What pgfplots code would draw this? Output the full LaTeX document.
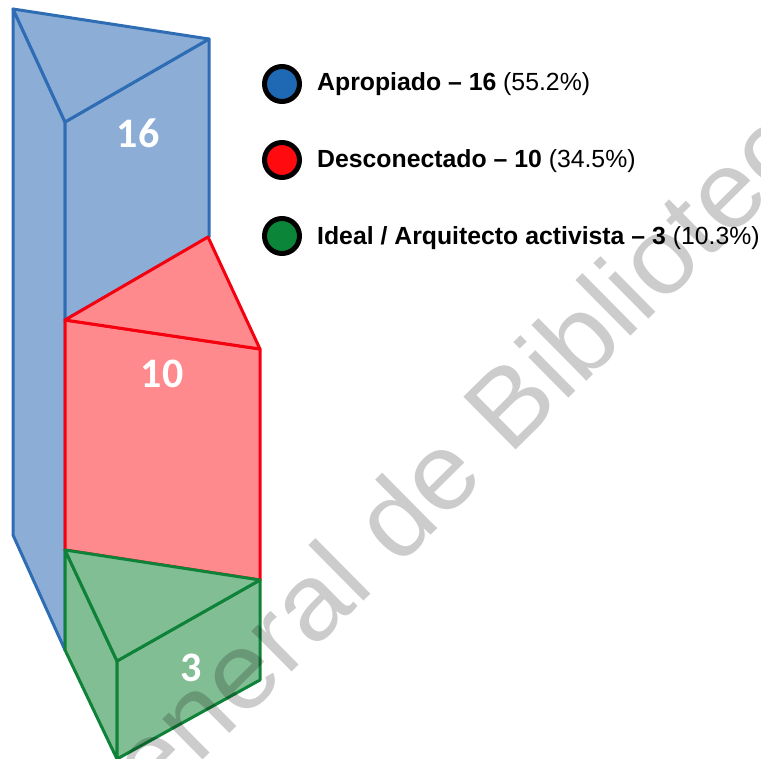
\documentclass[border=0pt]{standalone}
\usepackage{pgfplots}
\pgfplotsset{compat=1.18}
\usepackage{fontspec}
\setmainfont{Liberation Sans}
\newfontfamily\carlito{Carlito}
\definecolor{bline}{HTML}{2E6DB4}
\definecolor{bfill}{HTML}{8CAED6}
\definecolor{rline}{HTML}{F5000F}
\definecolor{rfill}{HTML}{FF8A8E}
\definecolor{gline}{HTML}{0E8238}
\definecolor{gfill}{HTML}{82BE94}
\definecolor{bdot}{HTML}{1F69B4}
\definecolor{rdot}{HTML}{FF0A0F}
\definecolor{gdot}{HTML}{0B8638}
\begin{document}
\begin{tikzpicture}
\useasboundingbox (0,0) rectangle (761pt,759pt);
\begin{axis}[anchor=south west,at={(0,0)},hide axis,scale only axis,width=761pt,height=759pt,
  xmin=0,xmax=761,ymin=0,ymax=759,y dir=reverse,clip=true]
% blue prism
\addplot[draw=bline,fill=bfill,line width=3pt,line join=round] coordinates {(13,9)(65,122)(65,650)(13,535)} --cycle;
\addplot[draw=bline,fill=bfill,line width=3pt,line join=round] coordinates {(65,122)(209,39)(209,237)(65,320)} --cycle;
\addplot[draw=bline,fill=bfill,line width=3pt,line join=round] coordinates {(13,9)(209,39)(65,122)} --cycle;
% red prism
\addplot[draw=rline,fill=rfill,line width=3pt,line join=round] coordinates {(65,320)(260,349)(260,580)(65,550)} --cycle;
\addplot[draw=rline,fill=rfill,line width=3pt,line join=round] coordinates {(65,320)(208,237)(260,349)} --cycle;
% green prism
\addplot[draw=gline,fill=gfill,line width=3pt,line join=round] coordinates {(65,550)(117,661)(117,759)(65,650)} --cycle;
\addplot[draw=gline,fill=gfill,line width=3pt,line join=round] coordinates {(117,661)(260,580)(260,680)(117,759)} --cycle;
\addplot[draw=gline,fill=gfill,line width=3pt,line join=round] coordinates {(65,550)(260,580)(117,661)} --cycle;
% watermark
\node[rotate=44.7,xscale=1.045,transform shape,anchor=base west,text=black,opacity=0.2,inner sep=0pt,font=\fontsize{108}{112}\selectfont] at (axis cs:90.5,871.5) {General de Biblioteca};
% value labels
\node[text=white,font=\carlito\bfseries\fontsize{42}{44}\selectfont] at (axis cs:138,133) {16};
\node[text=white,font=\carlito\bfseries\fontsize{42}{44}\selectfont] at (axis cs:162,374) {10};
\node[text=white,font=\carlito\bfseries\fontsize{42}{44}\selectfont] at (axis cs:191,668) {3};
% legend
\addplot[only marks,mark=*,mark size=17.5pt,mark options={draw=black,fill=bdot,line width=5pt}] coordinates {(282,84)};
\addplot[only marks,mark=*,mark size=17.5pt,mark options={draw=black,fill=rdot,line width=5pt}] coordinates {(282,160)};
\addplot[only marks,mark=*,mark size=17.5pt,mark options={draw=black,fill=gdot,line width=5pt}] coordinates {(282,236)};
\node[anchor=base west,inner sep=0pt,font=\fontsize{24.8}{28}\selectfont] at (axis cs:317,91) {\textbf{Apropiado -- 16} (55.2\%)};
\node[anchor=base west,inner sep=0pt,font=\fontsize{24.8}{28}\selectfont] at (axis cs:317,168) {\textbf{Desconectado -- 10} (34.5\%)};
\node[anchor=base west,inner sep=0pt,font=\fontsize{24.8}{28}\selectfont] at (axis cs:317,245) {\textbf{Ideal / Arquitecto activista -- 3} (10.3\%)};
\end{axis}
\end{tikzpicture}
\end{document}
